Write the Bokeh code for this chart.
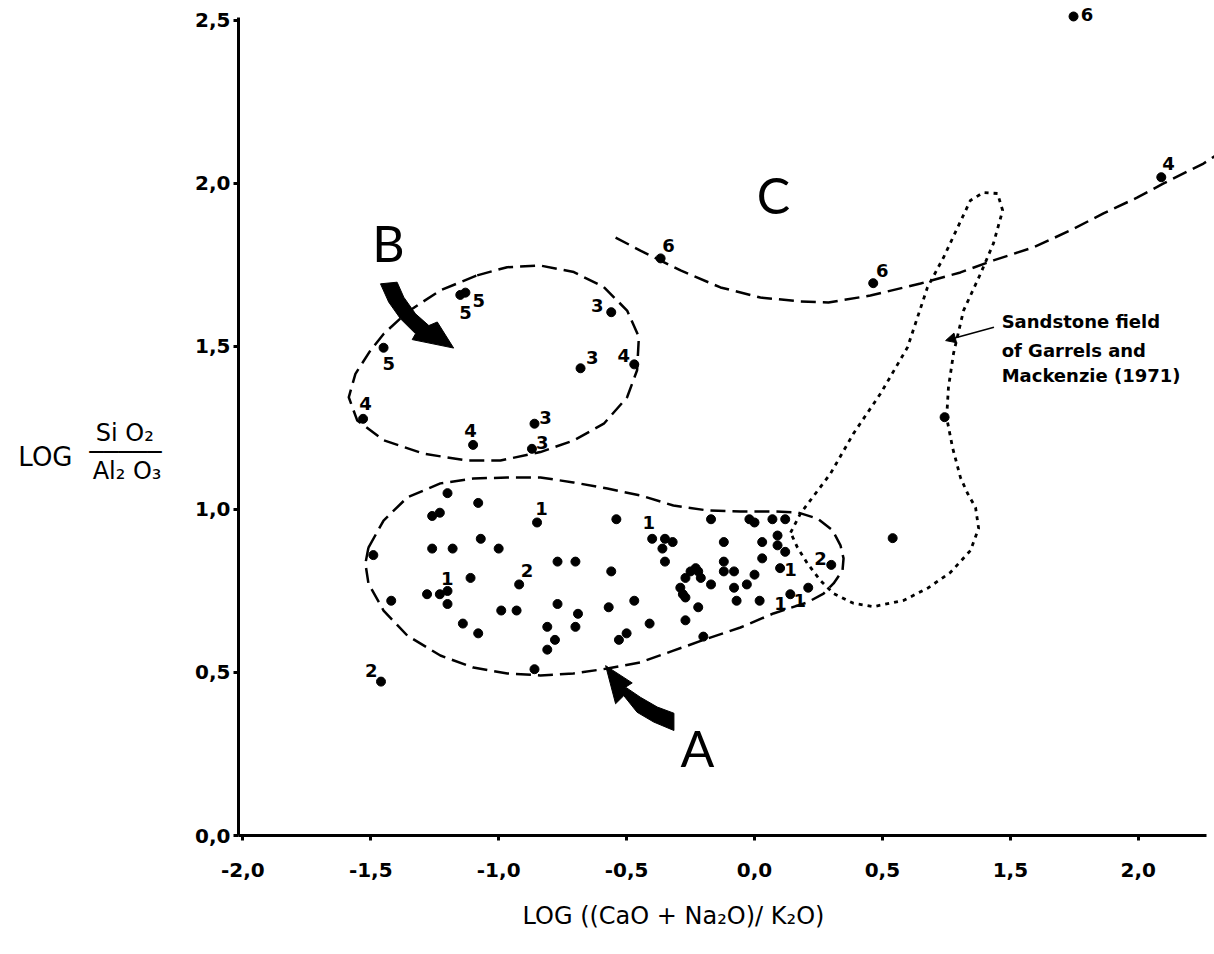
from bokeh.plotting import figure
from bokeh.models import FixedTicker, Arrow, NormalHead, ColumnDataSource, LinearAxis, Title
from bokeh.core.properties import value
from bokeh.embed import file_html
from bokeh.resources import INLINE

FONT = "DejaVu Sans"
BIG_FONT = "Lato"

# ---------------- data ----------------
# field A samples
A_X = [-1.20, -1.08, -1.26, -1.23, -0.85, -0.54, -0.40, -1.49, -1.26, -1.18, -1.07, -1.00,
       -0.77, -0.70, -0.56, -0.92, -1.11, -1.20, -1.23, -1.28, -1.42, -1.20, -0.99, -0.93,
       -0.77, -0.69, -0.57, -0.47, -1.14, -1.08, -0.81, -0.70, -0.41, -0.50, -0.53, -0.78,
       -0.81, -0.86,
       -0.35, -0.32, -0.36, -0.35, -0.17, -0.02, 0.00, 0.07, 0.12, -0.12, 0.09, 0.03,
       0.09, 0.12, 0.03, -0.23, -0.22, -0.25, -0.27, -0.21, -0.12, -0.12, -0.08, 0.10,
       0.30, 0.00, -0.17, -0.08, -0.03, -0.29, -0.28, -0.27, -0.07, 0.02, 0.14, 0.21,
       -0.22, -0.27, -0.20]
A_Y = [1.05, 1.02, 0.98, 0.99, 0.96, 0.97, 0.91, 0.86, 0.88, 0.88, 0.91, 0.88,
       0.84, 0.84, 0.81, 0.77, 0.79, 0.75, 0.74, 0.74, 0.72, 0.71, 0.69, 0.69,
       0.71, 0.68, 0.70, 0.72, 0.65, 0.62, 0.64, 0.64, 0.65, 0.62, 0.60, 0.60,
       0.57, 0.51,
       0.91, 0.90, 0.88, 0.84, 0.97, 0.97, 0.96, 0.97, 0.97, 0.90, 0.92, 0.90,
       0.89, 0.87, 0.85, 0.82, 0.81, 0.81, 0.79, 0.79, 0.84, 0.81, 0.81, 0.82,
       0.83, 0.80, 0.77, 0.76, 0.77, 0.76, 0.74, 0.73, 0.72, 0.72, 0.74, 0.76,
       0.70, 0.66, 0.61]
# field B samples
B_X = [-1.13, -1.15, -1.45, -0.56, -0.68, -0.47, -1.53, -1.10, -0.86, -0.87]
B_Y = [1.665, 1.658, 1.496, 1.605, 1.433, 1.445, 1.278, 1.198, 1.263, 1.186]
# other samples (field C and isolated points)
O_X = [-0.367, 0.464, 1.590, 1.247, -1.46, 0.54, 0.743]
O_Y = [1.770, 1.694, 2.019, 2.512, 0.472, 0.912, 1.283]

# sample number labels
LAB_TEXT = ["1", "1", "2", "1", "2", "1", "2", "1", "1",
            "5", "5", "5", "3", "3", "4", "4", "4", "3", "3",
            "6", "6", "4", "6"]
LAB_X = [-0.833, -0.413, -0.889, -1.201, -1.498, 0.141, 0.258, 0.102, 0.177,
         -1.078, -1.130, -1.430, -0.615, -0.634, -0.511, -1.521, -1.110, -0.817, -0.830,
         -0.336, 0.499, 1.618, 1.300]
LAB_Y = [1.002, 0.961, 0.813, 0.787, 0.506, 0.816, 0.849, 0.711, 0.721,
         1.641, 1.605, 1.448, 1.626, 1.467, 1.472, 1.324, 1.242, 1.283, 1.206,
         1.810, 1.733, 2.061, 2.518]

# envelope of field A (dashed)
ENV_A_X = [-1.509, -1.450, -1.357, -1.228, -1.099, -0.966, -0.837, -0.708, -0.575, -0.446,
           -0.317, -0.184, -0.055, 0.074, 0.168, 0.246, 0.305, 0.336, 0.348, 0.344,
           0.309, 0.270, 0.207, 0.074, -0.055, -0.184, -0.317, -0.446, -0.575, -0.708,
           -0.837, -0.966, -1.099, -1.228, -1.357, -1.450, -1.509, -1.521, -1.509]
ENV_A_Y = [0.883, 0.966, 1.037, 1.080, 1.095, 1.098, 1.098, 1.083, 1.064, 1.043,
           1.012, 0.997, 0.994, 0.994, 0.991, 0.972, 0.936, 0.890, 0.850, 0.813,
           0.773, 0.742, 0.715, 0.681, 0.638, 0.604, 0.567, 0.531, 0.512, 0.497,
           0.491, 0.497, 0.515, 0.552, 0.613, 0.690, 0.773, 0.834, 0.883]
# envelope of field B (dashed)
ENV_B_X = [-1.084, -0.967, -0.837, -0.706, -0.589, -0.498, -0.452, -0.459, -0.498, -0.589,
           -0.706, -0.837, -0.993, -1.123, -1.293, -1.449, -1.553, -1.586, -1.560, -1.501,
           -1.449, -1.358, -1.228, -1.084]
ENV_B_Y = [1.718, 1.743, 1.748, 1.728, 1.682, 1.610, 1.529, 1.427, 1.344, 1.263,
           1.212, 1.176, 1.150, 1.150, 1.171, 1.212, 1.273, 1.344, 1.416, 1.488,
           1.539, 1.605, 1.672, 1.718]
# lower limit of field C (dashed)
CUR_C_X = [-0.543, -0.446, -0.289, -0.133, 0.023, 0.180, 0.289, 0.453, 0.649, 0.805,
           0.934, 1.091, 1.235, 1.364, 1.497, 1.599, 1.755, 1.798]
CUR_C_Y = [1.834, 1.794, 1.733, 1.681, 1.650, 1.638, 1.635, 1.656, 1.693, 1.727,
           1.764, 1.804, 1.856, 1.908, 1.957, 2.000, 2.061, 2.083]
# sandstone field of Garrels and Mackenzie (dotted)
SAND_X = [0.141, 0.180, 0.297, 0.387, 0.493, 0.598, 0.676, 0.739, 0.794, 0.844,
          0.895, 0.950, 0.970, 0.934, 0.884, 0.817, 0.778, 0.758, 0.751, 0.774,
          0.805, 0.833, 0.864, 0.876, 0.844, 0.766, 0.676, 0.582, 0.465, 0.387,
          0.309, 0.258, 0.207, 0.168, 0.141]
SAND_Y = [0.929, 0.988, 1.110, 1.233, 1.356, 1.497, 1.681, 1.773, 1.865, 1.948,
          1.972, 1.969, 1.917, 1.816, 1.724, 1.610, 1.479, 1.374, 1.282, 1.190,
          1.098, 1.049, 1.006, 0.942, 0.874, 0.807, 0.758, 0.721, 0.702, 0.712,
          0.742, 0.782, 0.834, 0.883, 0.929]

# curved pointer arrows (filled shapes)
ARROW_B_X = [-1.462, -1.430, -1.384, -1.325, -1.338, -1.176, -1.240, -1.273, -1.325, -1.371, -1.397]
ARROW_B_Y = [1.692, 1.636, 1.585, 1.539, 1.521, 1.495, 1.575, 1.564, 1.600, 1.651, 1.697]
ARROW_A_X = [-0.582, -0.478, -0.504, -0.446, -0.380, -0.315, -0.315, -0.394, -0.459, -0.511, -0.543]
ARROW_A_Y = [0.521, 0.468, 0.455, 0.424, 0.394, 0.375, 0.322, 0.348, 0.378, 0.429, 0.404]

FIELD_TEXT = ["A", "B", "C"]
FIELD_X = [-0.223, -1.431, 0.074]
FIELD_Y = [0.267, 1.816, 1.963]

NOTE_LINES = ["Sandstone  field", "of  Garrels  and", "Mackenzie (1971)"]
NOTE_X = 0.966
NOTE_Y = [1.578, 1.488, 1.411]

XTICKS = [-2.0, -1.5, -1.0, -0.5, 0.0, 0.5, 1.0, 1.5]
XTICK_LABELS = ["-2,0", "-1,5", "-1,0", "-0,5", "0,0", "0,5", "1,5", "2,0"]
YTICKS = [0.0, 0.5, 1.0, 1.5, 2.0, 2.5]
YTICK_LABELS = ["0,0", "0,5", "1,0", "1,5", "2,0", "2,5"]

X_TITLE = "LOG  ((CaO + Na₂O)/ K₂O)"
Y_TITLE_LOG = "LOG"
Y_TITLE_NUM = "Si O₂ "
Y_TITLE_BAR = "─────"
Y_TITLE_DEN = "Al₂ O₃"

X_START, X_END = -2.017, 1.798
Y_START, Y_END = 0.0, 2.561

# ---------------- figure ----------------
p = figure(width=1214, height=954, output_backend="svg", toolbar_location=None,
           x_range=(X_START, X_END), y_range=(Y_START, Y_END),
           min_border_left=238, min_border_right=0, min_border_top=0, min_border_bottom=119)
p.outline_line_color = None
p.grid.visible = False
p.background_fill_color = "white"
p.border_fill_color = "white"

for ax in (p.xaxis[0], p.yaxis[0]):
    ax.axis_line_width = 3
    ax.axis_line_color = "black"
    ax.major_tick_line_width = 3
    ax.major_tick_in = 0
    ax.major_tick_out = 5
    ax.minor_tick_line_color = None
    ax.major_label_text_font = FONT
    ax.major_label_text_font_style = "bold"
    ax.major_label_text_font_size = "20px"
    ax.major_label_text_color = "black"

p.xaxis.ticker = FixedTicker(ticks=XTICKS)
p.xaxis.major_label_overrides = {t: l for t, l in zip(XTICKS, XTICK_LABELS)}
p.xaxis.bounds = (X_START, 1.767)
p.xaxis.major_label_standoff = 22
p.yaxis.ticker = FixedTicker(ticks=YTICKS)
p.yaxis.major_label_overrides = {t: l for t, l in zip(YTICKS, YTICK_LABELS)}
p.yaxis.bounds = (Y_START, 2.51)
p.yaxis.major_label_standoff = 3

# y-axis title as a fraction, built from two extra label-only axes
frac_ticks = [1.236, 1.175, 1.117]
ax_frac = LinearAxis(ticker=FixedTicker(ticks=frac_ticks),
                     major_label_overrides=dict(zip(frac_ticks, [Y_TITLE_NUM, Y_TITLE_BAR, Y_TITLE_DEN])),
                     axis_line_color=None, major_tick_line_color=None, minor_tick_line_color=None,
                     major_tick_out=0, major_tick_in=0, major_label_standoff=31,
                     major_label_text_font=FONT, major_label_text_font_size="24px",
                     major_label_text_color="black")
p.add_layout(ax_frac, "left")
ax_log = LinearAxis(ticker=FixedTicker(ticks=[1.160]),
                    major_label_overrides={1.160: Y_TITLE_LOG},
                    axis_line_color=None, major_tick_line_color=None, minor_tick_line_color=None,
                    major_tick_out=0, major_tick_in=0, major_label_standoff=14,
                    major_label_text_font=FONT, major_label_text_font_size="26px",
                    major_label_text_color="black")
p.add_layout(ax_log, "left")

# x-axis title
p.add_layout(Title(text=X_TITLE, align="left", offset=284, standoff=40,
                   text_font=FONT, text_font_style="normal", text_font_size="24px",
                   text_color="black"), "below")

DASH = "15 7"
p.line(ENV_A_X, ENV_A_Y, line_color="black", line_width=2.5, line_dash=DASH)
p.line(ENV_B_X, ENV_B_Y, line_color="black", line_width=2.5, line_dash=DASH)
p.line(CUR_C_X, CUR_C_Y, line_color="black", line_width=2.5, line_dash=DASH)
p.line(SAND_X, SAND_Y, line_color="black", line_width=2.8, line_dash="4 5")

p.patch(ARROW_B_X, ARROW_B_Y, fill_color="black", line_color="black", line_width=1)
p.patch(ARROW_A_X, ARROW_A_Y, fill_color="black", line_color="black", line_width=1)

p.scatter(A_X, A_Y, size=9, color="black")
p.scatter(B_X, B_Y, size=9, color="black")
p.scatter(O_X, O_Y, size=9, color="black")

lab_src = ColumnDataSource(dict(x=LAB_X, y=LAB_Y, t=LAB_TEXT))
p.text(x="x", y="y", text="t", source=lab_src, text_font=value(FONT), text_font_style="bold",
       text_font_size="18px", text_align="center", text_baseline="middle", text_color="black")

fld_src = ColumnDataSource(dict(x=FIELD_X, y=FIELD_Y, t=FIELD_TEXT))
p.text(x="x", y="y", text="t", source=fld_src, text_font=value(BIG_FONT),
       text_font_size="50px", text_align="center", text_baseline="middle", text_color="black")

note_src = ColumnDataSource(dict(x=[NOTE_X] * len(NOTE_LINES), y=NOTE_Y, t=NOTE_LINES))
p.text(x="x", y="y", text="t", source=note_src, text_font=value(FONT), text_font_style="bold",
       text_font_size="18px", text_align="left", text_baseline="middle", text_color="black")
p.add_layout(Arrow(x_start=0.936, y_start=1.559, x_end=0.747, y_end=1.518,
                   line_width=1.5, end=NormalHead(size=10, fill_color="black", line_color="black")))

open("out.html", "w").write(file_html(p, INLINE))
